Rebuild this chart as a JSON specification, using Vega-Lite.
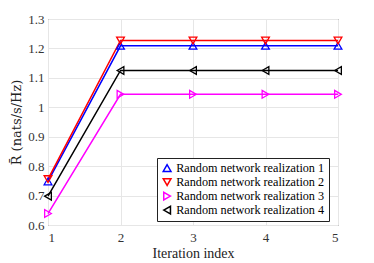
{
  "$schema": "https://vega.github.io/schema/vega-lite/v6.json",
  "autosize": {"type": "none"},
  "width": 290,
  "height": 206,
  "padding": {"left": 48, "top": 19, "right": 36, "bottom": 38},
  "config": {
    "font": "Liberation Serif",
    "view": {"stroke": "#444444", "strokeWidth": 1},
    "axis": {
      "gridColor": "#e6e6e6",
      "gridWidth": 1,
      "domain": false,
      "ticks": false,
      "labelFont": "Liberation Serif",
      "labelFontSize": 13,
      "labelColor": "#333333",
      "titleFont": "Liberation Serif",
      "titleFontSize": 14,
      "titleFontWeight": "normal",
      "titleColor": "#222222"
    },
    "legend": {
      "orient": "none",
      "legendX": 109,
      "legendY": 139,
      "fillColor": "white",
      "strokeColor": "#222222",
      "padding": 4,
      "labelFont": "Liberation Serif",
      "labelFontSize": 12.2,
      "labelColor": "#000000",
      "symbolSize": 60,
      "symbolStrokeWidth": 1.5,
      "rowPadding": 0,
      "labelOffset": 3
    }
  },
  "data": {
    "values": [
      {"series": "Random network realization 1", "iter": 1, "value": 0.748},
      {"series": "Random network realization 1", "iter": 2, "value": 1.209},
      {"series": "Random network realization 1", "iter": 3, "value": 1.209},
      {"series": "Random network realization 1", "iter": 4, "value": 1.209},
      {"series": "Random network realization 1", "iter": 5, "value": 1.209},
      {"series": "Random network realization 2", "iter": 1, "value": 0.756},
      {"series": "Random network realization 2", "iter": 2, "value": 1.227},
      {"series": "Random network realization 2", "iter": 3, "value": 1.227},
      {"series": "Random network realization 2", "iter": 4, "value": 1.227},
      {"series": "Random network realization 2", "iter": 5, "value": 1.227},
      {"series": "Random network realization 3", "iter": 1, "value": 0.639},
      {"series": "Random network realization 3", "iter": 2, "value": 1.044},
      {"series": "Random network realization 3", "iter": 3, "value": 1.044},
      {"series": "Random network realization 3", "iter": 4, "value": 1.044},
      {"series": "Random network realization 3", "iter": 5, "value": 1.044},
      {"series": "Random network realization 4", "iter": 1, "value": 0.698},
      {"series": "Random network realization 4", "iter": 2, "value": 1.125},
      {"series": "Random network realization 4", "iter": 3, "value": 1.125},
      {"series": "Random network realization 4", "iter": 4, "value": 1.125},
      {"series": "Random network realization 4", "iter": 5, "value": 1.125}
    ]
  },
  "encoding": {
    "x": {
      "field": "iter", "type": "quantitative",
      "scale": {"domain": [1, 5], "nice": false, "zero": false},
      "axis": {"values": [1, 2, 3, 4, 5], "title": "Iteration index", "labelPadding": 6, "titlePadding": 2}
    },
    "y": {
      "field": "value", "type": "quantitative",
      "scale": {"domain": [0.6, 1.3], "nice": false, "zero": false},
      "axis": {"values": [0.6, 0.7, 0.8, 0.9, 1, 1.1, 1.2, 1.3], "format": "~g", "title": "R̄ (nats/s/Hz)", "titleFont": "DejaVu Serif", "titleFontSize": 13, "labelPadding": 4, "titlePadding": 4}
    }
  },
  "layer": [
    {
      "mark": {"type": "line", "strokeWidth": 1.5},
      "encoding": {
        "color": {
          "field": "series", "type": "nominal",
          "scale": {"range": ["#0000ff", "#ff0000", "#ff00ff", "#000000"]},
          "legend": null
        }
      }
    },
    {
      "mark": {"type": "point", "filled": false, "size": 60, "strokeWidth": 1.3, "opacity": 1},
      "encoding": {
        "stroke": {
          "field": "series", "type": "nominal",
          "scale": {"range": ["#0000ff", "#ff0000", "#ff00ff", "#000000"]},
          "legend": {"title": null}
        },
        "shape": {
          "field": "series", "type": "nominal",
          "scale": {"range": ["triangle-up", "triangle-down", "triangle-right", "triangle-left"]},
          "legend": {"title": null}
        }
      }
    }
  ]
}
